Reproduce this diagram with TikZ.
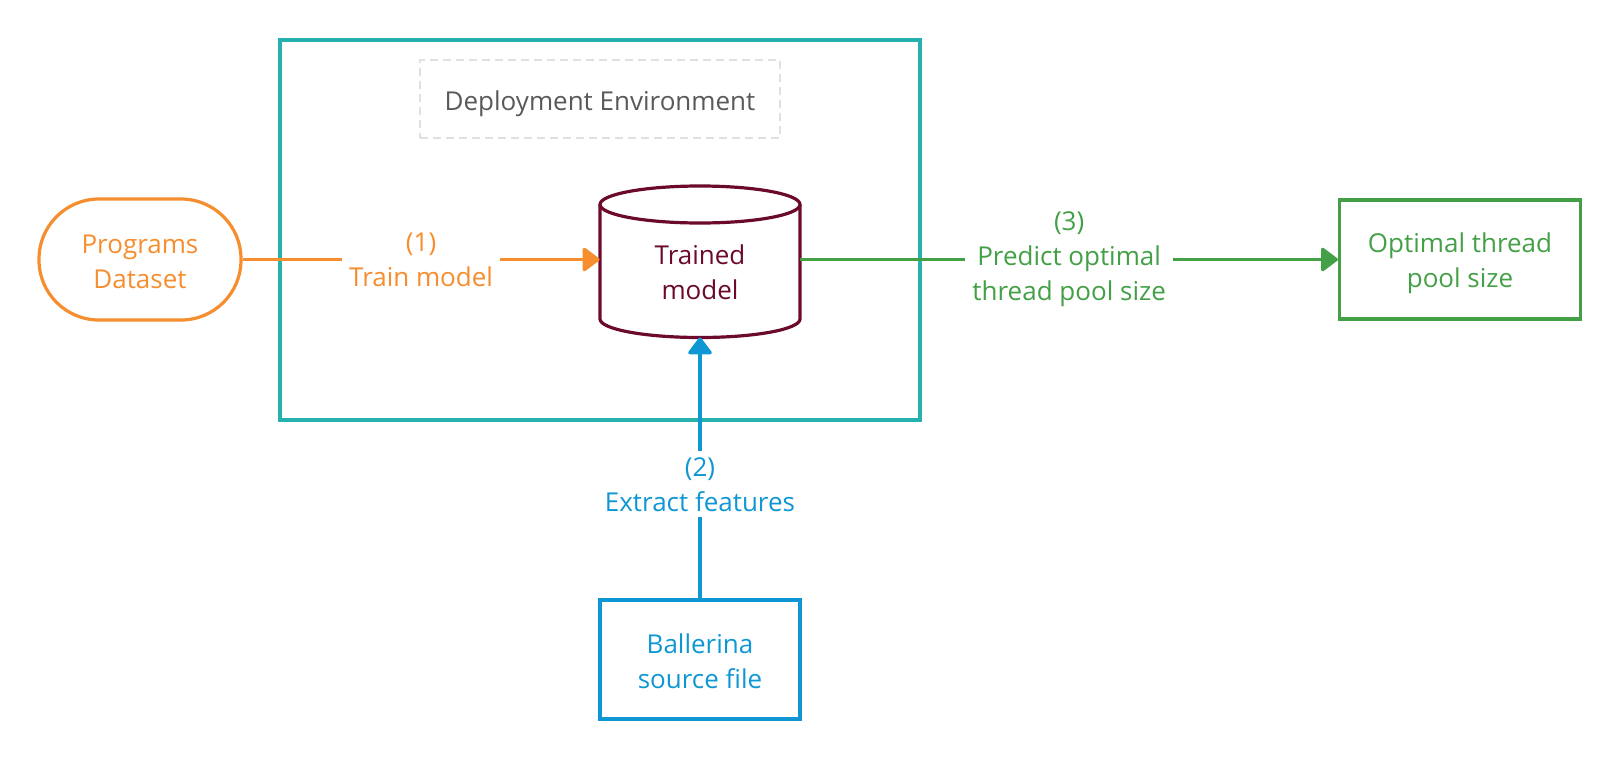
\documentclass[tikz,border=0pt]{standalone}
\usepackage{fontspec}
\setmainfont{Open Sans}
\usetikzlibrary{arrows.meta}
\definecolor{corange}{HTML}{F68D2E}
\definecolor{cteal}{HTML}{27B1AE}
\definecolor{cmaroon}{HTML}{6C0A2E}
\definecolor{cgreen}{HTML}{43A047}
\definecolor{cblue}{HTML}{0F97D3}
\definecolor{cgraytxt}{HTML}{595959}
\definecolor{cgrayline}{HTML}{E3DFE0}
\begin{document}
\begin{tikzpicture}[x=0.5pt,y=-0.5pt,
  txt/.style={font=\fontsize{13pt}{17.5pt}\selectfont, align=center},
  shapebox/.style={txt, draw, line width=1.6pt, inner sep=0pt},
  conn/.style={line width=1.6pt, -{Triangle[length=9pt,width=13pt,round]}},
  lbl/.style={txt, fill=white, inner xsep=3.5pt, inner ysep=3pt}]
\useasboundingbox (0,0) rectangle (1620,760);
% deployment environment frame
\node[draw=cteal, line width=1.7pt, minimum width=320pt, minimum height=190pt, inner sep=0pt] (env) at (600,230) {};
\node[draw=cgrayline, line width=1pt, dash pattern=on 4pt off 2.5pt, minimum width=180pt, minimum height=39pt, inner sep=0pt] (envlbl) at (600,99) {};
\node[txt, text=cgraytxt] (envtxt) at (600,103.5) {Deployment Environment};
% nodes
\node[shapebox, draw=corange, rounded corners=30pt, minimum width=101pt, minimum height=60.5pt] (data) at (140,259.5) {};
\node[txt, text=corange] (datatxt) at (140,262) {Programs\\Dataset};
\node[txt, minimum width=100pt, minimum height=75.5pt, inner sep=0pt] (model) at (700,261.5) {};
\filldraw[cmaroon, fill=white, line width=1.6pt] (600,204.5) -- (600,319) arc[start angle=180, end angle=360, x radius=50pt, y radius=9.25pt] -- (800,204.5);
\draw[cmaroon, line width=1.6pt] (700,204.5) ellipse[x radius=50pt, y radius=9.25pt];
\node[txt, text=cmaroon] (modeltxt) at (700,272.5) {Trained\\model};
\node[shapebox, draw=cgreen, minimum width=120.5pt, minimum height=59.5pt] (out) at (1460,259.5) {};
\node[txt, text=cgreen] (outtxt) at (1460,263.5) {Optimal thread\\pool size};
\node[shapebox, draw=cblue, minimum width=100pt, minimum height=59.5pt] (src) at (700,659.5) {};
\node[txt, text=cblue] (srctxt) at (700,661) {Ballerina\\source file};
% connectors
\draw[conn, corange] (data.east) -- (model.west |- data.east)
  node[lbl, text=corange, midway] {(1)\\Train model};
\draw[conn, cgreen] (model.east |- out.west) -- (out.west)
  node[lbl, text=cgreen, midway] {(3)\\Predict optimal\\thread pool size};
\draw[conn, cblue] (src.north) -- (model.south)
  node[lbl, text=cblue, pos=0.437] {(2)\\Extract features};
\end{tikzpicture}
\end{document}
